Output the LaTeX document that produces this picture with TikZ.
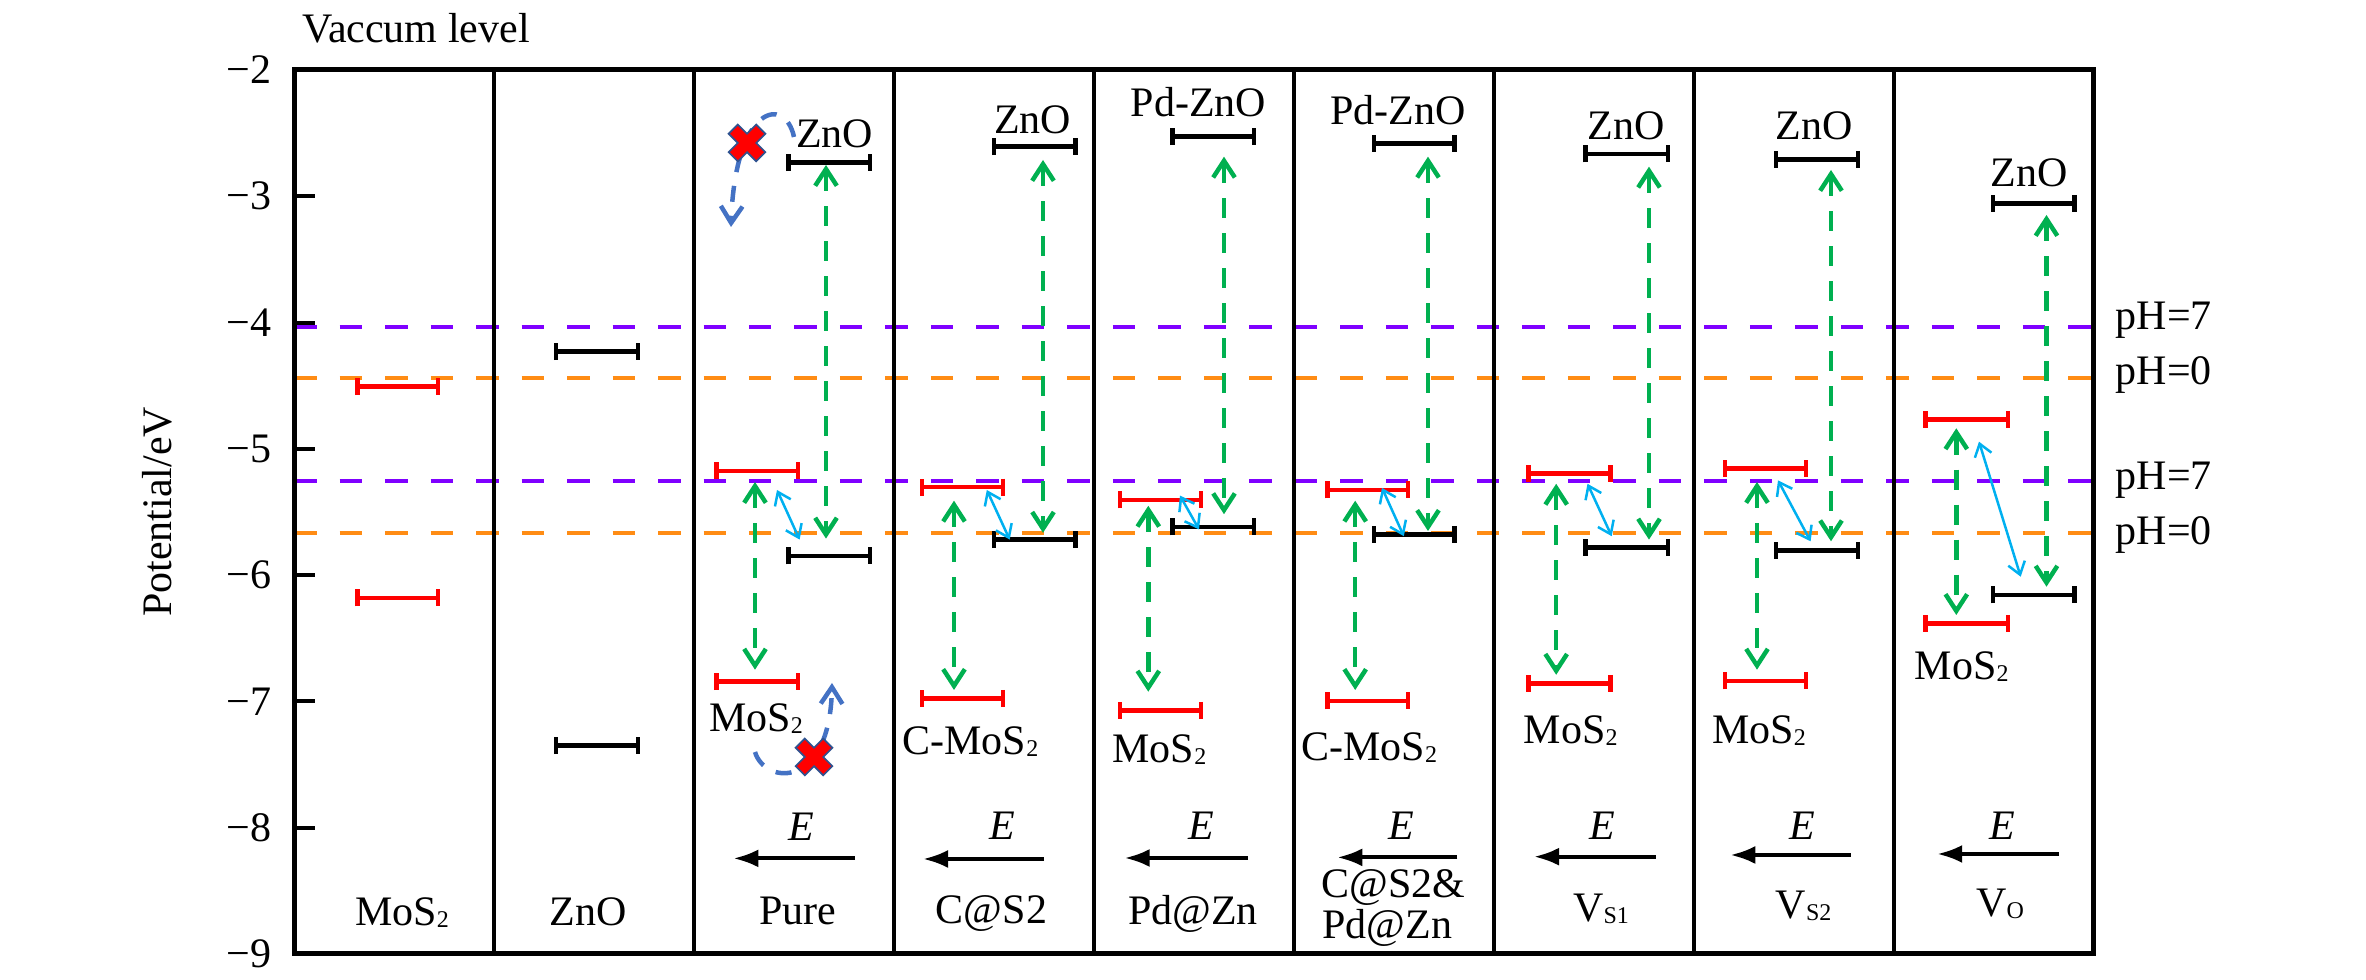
\documentclass[tikz,border=0pt]{standalone}
\usepackage{fontspec}
\setmainfont{Liberation Serif}
\usetikzlibrary{arrows.meta}
\definecolor{cred}{RGB}{255,0,0}
\definecolor{cgreen}{RGB}{0,176,80}
\definecolor{cpurple}{RGB}{127,0,255}
\definecolor{corange}{RGB}{255,140,20}
\definecolor{cblue}{RGB}{0,176,240}
\definecolor{ccurve}{RGB}{68,114,196}
\definecolor{cxline}{RGB}{47,82,143}
\newcommand{\sbs}[1]{\raisebox{-0.6pt}{\fontsize{7.2}{8}\selectfont #1}}
\newcommand{\drawcol}[1]{%
  \draw[kbar] (#1-zc1) -- (#1-zc2);
  \draw[kbar] (#1-zv1) -- (#1-zv2);
  \draw[rbar] (#1-mc1) -- (#1-mc2);
  \draw[rbar] (#1-mv1) -- (#1-mv2);
  \draw[garrow] (#1-g1a) -- (#1-g1b);
  \draw[garrow] (#1-g2a) -- (#1-g2b);
  \draw[barrow] (#1-ba) -- (#1-bb);
  \draw[earrow] (#1-ea) -- (#1-eb);
}
\begin{document}
\begin{tikzpicture}[x=0.3pt,y=-0.3pt,
  every node/.style={inner sep=0pt, font=\fontsize{12.6}{15}\selectfont},
  lbl/.style={anchor=base},
  frame/.style={line width=1.5pt},
  divider/.style={line width=1.05pt},
  phline/.style={line width=1.2pt, dash pattern=on 6.75pt off 6.9pt},
  lvl/.style={line width=1.35pt, {Bar[width=5.1pt]}-{Bar[width=5.1pt]}},
  kbar/.style={lvl, draw=black},
  rbar/.style={lvl, draw=cred},
  garrow/.style={draw=cgreen, line width=1.35pt, dash pattern=on 6pt off 4.5pt,
    {Straight Barb[length=5pt,width=6.5pt]}-{Straight Barb[length=5pt,width=6.5pt]}},
  barrow/.style={draw=cblue, line width=0.75pt,
    {Straight Barb[length=3.6pt,width=5.2pt]}-{Straight Barb[length=3.6pt,width=5.2pt]}},
  earrow/.style={line width=1.2pt, -{Latex[length=7.5pt,width=5.4pt]}},
  curv/.style={draw=ccurve, line width=1.35pt, dash pattern=on 4.8pt off 4.2pt,
    -{Straight Barb[length=5pt,width=6.5pt]}},
  pics/xmark/.style={code={
    \draw[draw=cxline, line width=0.5pt, fill=cred, rotate=45]
      (-6.5,-19.5) -- (6.5,-19.5) -- (6.5,-6.5) -- (19.5,-6.5) -- (19.5,6.5) -- (6.5,6.5)
      -- (6.5,19.5) -- (-6.5,19.5) -- (-6.5,6.5) -- (-19.5,6.5) -- (-19.5,-6.5) -- (-6.5,-6.5) -- cycle;}},
]
\useasboundingbox (0,0) rectangle (2366,980);

% frame corners
\coordinate (F1) at (294,70); \coordinate (F2) at (2093,954);

% pH reference lines
\coordinate (L1a) at (294,326.7); \coordinate (L1b) at (2093,326.7);
\coordinate (L2a) at (294,377.7); \coordinate (L2b) at (2093,377.7);
\coordinate (L3a) at (294,480.7); \coordinate (L3b) at (2093,480.7);
\coordinate (L4a) at (294,533.3); \coordinate (L4b) at (2093,533.3);
\draw[phline, draw=cpurple] (L1a) -- (L1b);
\draw[phline, draw=corange] (L2a) -- (L2b);
\draw[phline, draw=cpurple] (L3a) -- (L3b);
\draw[phline, draw=corange] (L4a) -- (L4b);

% column dividers
\foreach \k in {1,...,8} {
  \coordinate (D\k a) at (294+200*\k,70);
  \coordinate (D\k b) at (294+200*\k,954);
  \draw[divider] (D\k a) -- (D\k b);
}

% column 1: MoS2
\coordinate (m-c1) at (355,386.7); \coordinate (m-c2) at (440,386.7);
\coordinate (m-v1) at (355,598); \coordinate (m-v2) at (440,598);
\draw[rbar] (m-c1) -- (m-c2);
\draw[rbar] (m-v1) -- (m-v2);
% column 2: ZnO
\coordinate (z-c1) at (553.6,351.7); \coordinate (z-c2) at (640,351.7);
\coordinate (z-v1) at (553.6,745.6); \coordinate (z-v2) at (640,745.6);
\draw[kbar] (z-c1) -- (z-c2);
\draw[kbar] (z-v1) -- (z-v2);

% column 3: Pure
\coordinate (p-zc1) at (786,162.7); \coordinate (p-zc2) at (872,162.7);
\coordinate (p-zv1) at (786,555.8); \coordinate (p-zv2) at (872,555.8);
\coordinate (p-mc1) at (714,471); \coordinate (p-mc2) at (800,471);
\coordinate (p-mv1) at (714,681.6); \coordinate (p-mv2) at (800,681.6);
\coordinate (p-g1a) at (826,165); \coordinate (p-g1b) at (826,538.6);
\coordinate (p-g2a) at (755,482); \coordinate (p-g2b) at (755,669.7);
\coordinate (p-ba) at (777,490); \coordinate (p-bb) at (799.6,539.6);
\coordinate (p-ea) at (855,858.4); \coordinate (p-eb) at (733.4,858.4);
\drawcol{p}

% column 4: C@S2
\coordinate (c-zc1) at (991.7,146.7); \coordinate (c-zc2) at (1077.5,146.7);
\coordinate (c-zv1) at (991.7,539.6); \coordinate (c-zv2) at (1077.5,539.6);
\coordinate (c-mc1) at (919.8,487.2); \coordinate (c-mc2) at (1005,487.2);
\coordinate (c-mv1) at (919.8,698.5); \coordinate (c-mv2) at (1005,698.5);
\coordinate (c-g1a) at (1043,160); \coordinate (c-g1b) at (1043,532.8);
\coordinate (c-g2a) at (954,500.7); \coordinate (c-g2b) at (954,690);
\coordinate (c-ba) at (986.8,490); \coordinate (c-bb) at (1009.7,539.6);
\coordinate (c-ea) at (1044,859); \coordinate (c-eb) at (923,859);
\drawcol{c}

% column 5: Pd@Zn
\coordinate (d-zc1) at (1170,136.7); \coordinate (d-zc2) at (1256,136.7);
\coordinate (d-zv1) at (1170,527); \coordinate (d-zv2) at (1256,527);
\coordinate (d-mc1) at (1117.7,500); \coordinate (d-mc2) at (1203,500);
\coordinate (d-mv1) at (1117.7,710.3); \coordinate (d-mv2) at (1203,710.3);
\coordinate (d-g1a) at (1224,156.7); \coordinate (d-g1b) at (1224,514.2);
\coordinate (d-g2a) at (1148.3,505.8); \coordinate (d-g2b) at (1148.3,691.7);
\coordinate (d-ba) at (1180,495.6); \coordinate (d-bb) at (1199,529.4);
\coordinate (d-ea) at (1248,858); \coordinate (d-eb) at (1124.6,858);
\drawcol{d}

% column 6: C@S2 & Pd@Zn
\coordinate (f-zc1) at (1371.7,143.3); \coordinate (f-zc2) at (1456.7,143.3);
\coordinate (f-zv1) at (1371.7,534.5); \coordinate (f-zv2) at (1456.7,534.5);
\coordinate (f-mc1) at (1325.4,490); \coordinate (f-mc2) at (1410,490);
\coordinate (f-mv1) at (1325.4,700.8); \coordinate (f-mv2) at (1410,700.8);
\coordinate (f-g1a) at (1428,156.7); \coordinate (f-g1b) at (1428,531);
\coordinate (f-g2a) at (1355.2,500.7); \coordinate (f-g2b) at (1355.2,690);
\coordinate (f-ba) at (1382,487.9); \coordinate (f-bb) at (1403.8,536.2);
\coordinate (f-ea) at (1457.4,857.4); \coordinate (f-eb) at (1337.3,857.4);
\drawcol{f}

% column 7: VS1
\coordinate (s-zc1) at (1583,154); \coordinate (s-zc2) at (1670.2,154);
\coordinate (s-zv1) at (1583,547.4); \coordinate (s-zv2) at (1670.2,547.4);
\coordinate (s-mc1) at (1526.3,473.7); \coordinate (s-mc2) at (1612.8,473.7);
\coordinate (s-mv1) at (1526.3,683.3); \coordinate (s-mv2) at (1612.8,683.3);
\coordinate (s-g1a) at (1649,166.7); \coordinate (s-g1b) at (1649,539.6);
\coordinate (s-g2a) at (1556.2,483.8); \coordinate (s-g2b) at (1556.2,674.8);
\coordinate (s-ba) at (1587.5,483.8); \coordinate (s-bb) at (1611.7,536.2);
\coordinate (s-ea) at (1655.7,856.7); \coordinate (s-eb) at (1534,856.7);
\drawcol{s}

% column 8: VS2
\coordinate (t-zc1) at (1773.5,159.3); \coordinate (t-zc2) at (1860,159.3);
\coordinate (t-zv1) at (1773.5,550.4); \coordinate (t-zv2) at (1860,550.4);
\coordinate (t-mc1) at (1722.6,468.6); \coordinate (t-mc2) at (1808,468.6);
\coordinate (t-mv1) at (1722.6,681); \coordinate (t-mv2) at (1808,681);
\coordinate (t-g1a) at (1831,170); \coordinate (t-g1b) at (1831,541.3);
\coordinate (t-g2a) at (1757,482); \coordinate (t-g2b) at (1757,669.7);
\coordinate (t-ba) at (1778,480.4); \coordinate (t-bb) at (1810.6,541.3);
\coordinate (t-ea) at (1850.5,855); \coordinate (t-eb) at (1730.3,855);
\drawcol{t}

% column 9: VO
\coordinate (o-zc1) at (1990.7,203.3); \coordinate (o-zc2) at (2076.7,203.3);
\coordinate (o-zv1) at (1990.7,595); \coordinate (o-zv2) at (2076.7,595);
\coordinate (o-mc1) at (1923.3,419.3); \coordinate (o-mc2) at (2010,419.3);
\coordinate (o-mv1) at (1923.3,623.3); \coordinate (o-mv2) at (2010,623.3);
\coordinate (o-g1a) at (2046.5,215); \coordinate (o-g1b) at (2046.5,586.7);
\coordinate (o-g2a) at (1956.3,428.3); \coordinate (o-g2b) at (1956.3,615);
\coordinate (o-ba) at (1979,441.7); \coordinate (o-bb) at (2020.7,576.7);
\coordinate (o-ea) at (2059.2,854); \coordinate (o-eb) at (1937.2,854);
\drawcol{o}

% blocked-transfer curves and crosses (Pure)
\coordinate (ca1) at (794,137); \coordinate (ca2) at (731,227);
\draw[curv] (ca1) .. controls (785,95) and (735,105) .. (ca2);
\coordinate (cb1) at (755,752); \coordinate (cb2) at (832,683);
\draw[curv] (cb1) .. controls (765,785) and (830,790) .. (cb2);
\pic at (747,143) {xmark};
\pic at (814,757) {xmark};

% frame and ticks
\draw[frame] (F1) rectangle (F2);
\foreach \yy in {196.3,322.6,448.9,575.2,701.5,827.8} {
  \draw[line width=1.2pt] (294,\yy) -- (315,\yy);
}
\foreach \v/\yy in {2/70,3/196.3,4/322.6,5/448.9,6/575.2,7/701.5,8/827.8,9/954.1} {
  \node[anchor=east] (tk\v) at (272,\yy) {−\v};
}

% axis titles
\node[lbl] (vac) at (416,42.7) {Vaccum level};
\node[rotate=90, anchor=base] (ylab) at (172,512) {Potential/eV};

% pH labels
\node[anchor=base west] (ph1) at (2115,330) {pH=7};
\node[anchor=base west] (ph2) at (2115,385) {pH=0};
\node[anchor=base west] (ph3) at (2115,490) {pH=7};
\node[anchor=base west] (ph4) at (2115,545) {pH=0};

% band labels
\node[lbl] (pz) at (834.5,147.7) {ZnO};
\node[lbl] (pm) at (756,732) {MoS\sbs{2}};
\node[lbl] (cz) at (1032.7,133.3) {ZnO};
\node[lbl] (cm) at (970.5,754.3) {C-MoS\sbs{2}};
\node[lbl] (dz) at (1198.5,116.7) {Pd-ZnO};
\node[lbl] (dm) at (1159.4,762.7) {MoS\sbs{2}};
\node[lbl] (fz) at (1398.3,125) {Pd-ZnO};
\node[lbl] (fm) at (1369.2,761) {C-MoS\sbs{2}};
\node[lbl] (sz) at (1626,140) {ZnO};
\node[lbl] (sm) at (1570.7,744) {MoS\sbs{2}};
\node[lbl] (tz) at (1814,140) {ZnO};
\node[lbl] (tm) at (1759,744) {MoS\sbs{2}};
\node[lbl] (oz) at (2029,186.7) {ZnO};
\node[lbl] (om) at (1961.8,680) {MoS\sbs{2}};

% field labels
\node[lbl] (pe) at (801.5,840.5) {\textit{E}};
\node[lbl] (ce) at (1002,840) {\textit{E}};
\node[lbl] (de) at (1201,840) {\textit{E}};
\node[lbl] (fe) at (1401,840) {\textit{E}};
\node[lbl] (se) at (1602,840) {\textit{E}};
\node[lbl] (te) at (1802.6,840) {\textit{E}};
\node[lbl] (oe) at (2002.7,840) {\textit{E}};

% column titles
\node[lbl] (n1) at (402,926) {MoS\sbs{2}};
\node[lbl] (n2) at (588,926) {ZnO};
\node[lbl] (n3) at (798,924.3) {Pure};
\node[lbl] (n4) at (991.5,924) {C@S2};
\node[lbl] (n5) at (1193,925) {Pd@Zn};
\node[lbl] (n6a) at (1393.5,898) {C@S2\&};
\node[lbl] (n6b) at (1387.4,938.5) {Pd@Zn};
\node[lbl] (n7) at (1601,921.6) {V\sbs{S1}};
\node[lbl] (n8) at (1803.5,919) {V\sbs{S2}};
\node[lbl] (n9) at (2000,916.5) {V\sbs{O}};
\end{tikzpicture}
\end{document}
